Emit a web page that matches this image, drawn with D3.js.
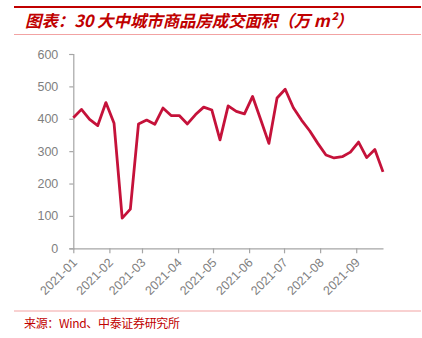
<!DOCTYPE html>
<html><head><meta charset="utf-8">
<script src="https://cdn.jsdelivr.net/npm/d3@7"></script>
<style>
html,body{margin:0;padding:0;background:#fff;}
svg{display:block;}
</style></head>
<body>
<svg id="chart" width="422" height="338"></svg>
<script>
const title = "图表：30 大中城市商品房成交面积（万 m²）";
const source = "来源：Wind、中泰证券研究所";
const dates = ["2021-01-01","2021-01-08","2021-01-15","2021-01-22","2021-01-29",
"2021-02-05","2021-02-12","2021-02-19","2021-02-26",
"2021-03-05","2021-03-12","2021-03-19","2021-03-26",
"2021-04-02","2021-04-09","2021-04-16","2021-04-23","2021-04-30",
"2021-05-07","2021-05-14","2021-05-21","2021-05-28",
"2021-06-04","2021-06-11","2021-06-18","2021-06-25",
"2021-07-02","2021-07-09","2021-07-16","2021-07-23","2021-07-30",
"2021-08-06","2021-08-13","2021-08-20","2021-08-27",
"2021-09-03","2021-09-10","2021-09-17","2021-09-24"];
const values = [403,429,398,379,450,386,93,121,384,396,383,433,410,410,384,413,436,427,
335,440,423,415,469,397,324,464,491,434,396,363,324,288,279,283,297,328,280,305,236];
const yTicks = [0,100,200,300,400,500,600];
const xTickLabels = ["2021-01","2021-02","2021-03","2021-04","2021-05","2021-06","2021-07","2021-08","2021-09"];

const parse = d3.timeParse("%Y-%m-%d");
const parseM = d3.timeParse("%Y-%m");
const data = dates.map((d,i)=>({date:parse(d), value:values[i]}));

const svg = d3.select("#chart");
const red = "#c00000";

// header rules
svg.append("line").attr("x1",14).attr("x2",421).attr("y1",7).attr("y2",7)
  .attr("stroke",red).attr("stroke-width",2.2);
svg.append("line").attr("x1",14).attr("x2",421).attr("y1",34.5).attr("y2",34.5)
  .attr("stroke","#f2a3a3").attr("stroke-width",1);
svg.append("text").attr("x",25).attr("y",27)
  .attr("font-family","'Noto Sans CJK SC', sans-serif")
  .attr("font-size",16.5).attr("font-weight","bold").attr("font-style","italic")
  .attr("fill",red).attr("textLength",328).attr("lengthAdjust","spacing").text(title);

const x = d3.scaleTime().domain([data[0].date, data[data.length-1].date]).range([73.3, 383]);
const y = d3.scaleLinear().domain([0,600]).range([248.3, 54]);

const axisColor = "#a6a6a6";
const textColor = "#7f7f7f";

const yAxis = svg.append("g").attr("transform","translate(73.3,0)")
  .call(d3.axisLeft(y).tickValues(yTicks).tickSize(4).tickPadding(11).tickFormat(d3.format("d")));
yAxis.select(".domain").attr("stroke",axisColor).attr("stroke-width",1.2);
yAxis.selectAll(".tick line").attr("stroke",axisColor).attr("stroke-width",1.2);
yAxis.selectAll("text").attr("fill",textColor).attr("font-size",12.5)
  .attr("font-family","'Liberation Sans', Arial, sans-serif");

const xAxis = svg.append("g").attr("transform","translate(0,248.3)")
  .call(d3.axisBottom(x).tickValues(xTickLabels.map(parseM)).tickSize(5)
    .tickSizeOuter(0).tickFormat(d3.timeFormat("%Y-%m")));
xAxis.select(".domain").attr("stroke",axisColor).attr("stroke-width",1.2);
xAxis.selectAll(".tick line").attr("stroke",axisColor).attr("stroke-width",1.2);
xAxis.selectAll("text").attr("fill",textColor).attr("font-size",12.5)
  .attr("font-family","'Liberation Sans', Arial, sans-serif")
  .attr("text-anchor","end").attr("dy",0).attr("y",0)
  .attr("transform","translate(4,15) rotate(-45)");

const line = d3.line().x(d=>x(d.date)).y(d=>y(d.value));
svg.append("path").datum(data).attr("d",line).attr("fill","none")
  .attr("stroke","#c5123a").attr("stroke-width",2.8).attr("stroke-linejoin","round");

// footer
svg.append("line").attr("x1",14).attr("x2",421).attr("y1",311).attr("y2",311)
  .attr("stroke","#f2a3a3").attr("stroke-width",1);
svg.append("text").attr("x",24).attr("y",328)
  .attr("font-family","'Noto Sans CJK SC', monospace")
  .attr("font-size",12).attr("fill",red).attr("textLength",156).attr("lengthAdjust","spacing")
  .text(source);
</script>
</body></html>
